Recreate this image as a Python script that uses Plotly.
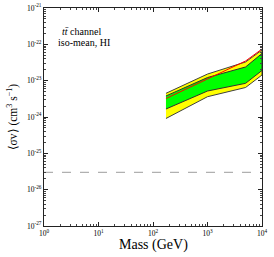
import plotly.graph_objects as go

mass = [173, 1000, 5000, 10000]
yellow_hi = [4.49e-24, 1.52e-23, 3.27e-23, 6.98e-23]
green_hi = [3.79e-24, 1.22e-23, 2.38e-23, 5.60e-23]
green_lo = [1.66e-24, 5.19e-24, 8.45e-24, 1.91e-23]
yellow_lo = [9.1e-25, 3.62e-24, 6.49e-24, 1.43e-23]
red_line = [3.23e-24, 1.11e-23, 3.48e-23, 7.43e-23]
thermal = 3e-26

x_tickvals = [1, 10, 100, 1000, 10000]
x_ticktext = ["10<sup>0</sup>", "10<sup>1</sup>", "10<sup>2</sup>", "10<sup>3</sup>", "10<sup>4</sup>"]
y_exps = [-27, -26, -25, -24, -23, -22, -21]
y_tickvals = [10.0 ** e for e in y_exps]
y_ticktext = ["10<sup>%d</sup>" % e for e in y_exps]

SERIF = "Liberation Serif"

fig = go.Figure()
fig.add_trace(go.Scatter(x=[1, 10000], y=[thermal, thermal], mode="lines",
                         line=dict(color="#b0b0b0", width=1.2, dash="dash"), showlegend=False))
fig.add_trace(go.Scatter(x=mass + mass[::-1], y=yellow_hi + yellow_lo[::-1], fill="toself",
                         fillcolor="#ffff00", mode="lines", line=dict(color="#404040", width=1),
                         showlegend=False))
fig.add_trace(go.Scatter(x=mass + mass[::-1], y=green_hi + green_lo[::-1], fill="toself",
                         fillcolor="#00ff00", mode="lines", line=dict(color="#303030", width=1),
                         showlegend=False))
fig.add_trace(go.Scatter(x=mass, y=red_line, mode="lines",
                         line=dict(color="#ff0000", width=1), showlegend=False))

fig.add_annotation(x=0.172, y=0.89, xref="paper", yref="paper", xanchor="center", yanchor="middle",
                   text="<i>t</i><i>t̄</i> channel", showarrow=False,
                   font=dict(family=SERIF, size=10, color="black"))
fig.add_annotation(x=0.184, y=0.84, xref="paper", yref="paper", xanchor="center", yanchor="middle",
                   text="iso-mean, HI", showarrow=False,
                   font=dict(family=SERIF, size=10, color="black"))
fig.add_annotation(x=0.5, y=-0.085, xref="paper", yref="paper", xanchor="center", yanchor="middle",
                   text="Mass (GeV)", showarrow=False,
                   font=dict(family=SERIF, size=14, color="black"))
fig.add_annotation(x=-0.145, y=0.5, xref="paper", yref="paper", xanchor="center", yanchor="middle",
                   text="⟨σv⟩ (cm<sup>3</sup> s<sup>−1</sup>)", showarrow=False, textangle=-90,
                   font=dict(family=SERIF, size=11.5, color="black"))

axis_common = dict(type="log", showgrid=False, zeroline=False, showline=True, linecolor="#222",
                   linewidth=1, mirror="allticks", ticks="inside", ticklen=4, tickcolor="#222",
                   automargin=False,
                   tickfont=dict(family=SERIF, size=7.5, color="black"),
                   minor=dict(tickmode="linear", dtick="D1", ticks="inside", ticklen=2,
                              tickcolor="#444", showgrid=False))

fig.update_xaxes(range=[0, 4], tickvals=x_tickvals, ticktext=x_ticktext, **axis_common)
fig.update_yaxes(range=[-27, -21], tickvals=y_tickvals, ticktext=y_ticktext, **axis_common)

fig.update_layout(width=274, height=257, margin=dict(l=44, r=12, t=8, b=31),
                  paper_bgcolor="white", plot_bgcolor="white", showlegend=False)

fig.write_html("out.html", config={"displayModeBar": False},
               post_script="document.body.style.margin='0';")
